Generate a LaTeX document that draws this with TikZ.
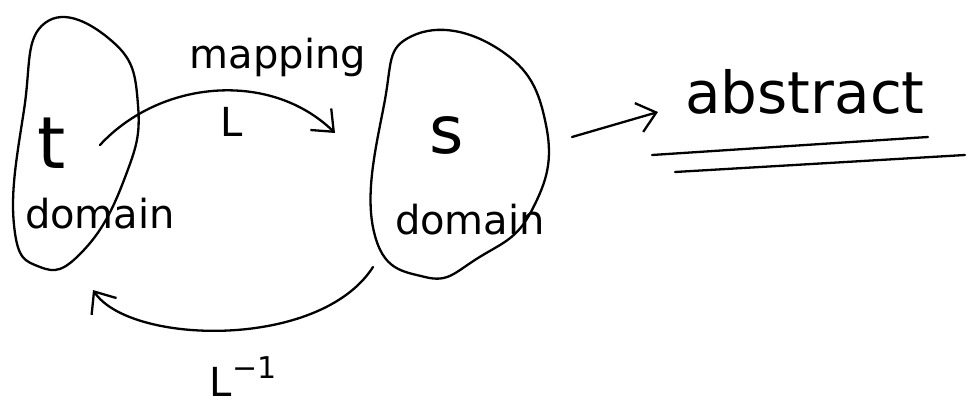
\documentclass[tikz,border=0pt]{standalone}
\usepackage{fontspec}
\setmainfont{DejaVu Sans}
\usetikzlibrary{arrows.meta}
\begin{document}
\begin{tikzpicture}[x=1pt,y=-1pt,
  pen/.style={line width=2.3pt,black,line cap=round,line join=round},
  arr/.style={pen,-{Straight Barb[length=18pt,width=30pt]}},
  txt/.style={inner sep=0pt,font=\fontsize{#1}{#1}\selectfont}]
\useasboundingbox (0,0) rectangle (971,415);
% domains
\draw[pen] plot[smooth cycle,tension=0.8] coordinates {(45,23) (113,42) (138,105) (124,180) (82,252) (40,267) (14,225) (24,110)};
\draw[pen] plot[smooth cycle,tension=0.8] coordinates {(412,36) (500,50) (546,125) (532,210) (478,258) (425,277) (374,232) (384,105)};
% texts
\node[txt=72] (t) at (52,143) {t};
\node[txt=40] (td) at (100,214) {domain};
\node[txt=66] (s) at (447,135) {s};
\node[txt=40] (sd) at (470,220) {domain};
\node[txt=40] (map) at (278,57) {mapping};
\node[txt=40] (L) at (232,122) {L};
\node[txt=40] (Li) at (243,377) {L\raisebox{0.45em}{\fontsize{30}{30}\selectfont −1}};
\node[txt=58] (abs) at (805,92) {abstract};
% connectors
\coordinate (m1) at (100,145);
\coordinate (m2) at (335,133);
\draw[arr] (m1) .. controls (160,80) and (270,70) .. (m2);
\coordinate (b1) at (373,267);
\coordinate (b2) at (93,290);
\draw[arr] (b1) .. controls (320,350) and (130,345) .. (b2);
\coordinate (a1) at (572,137);
\coordinate (a2) at (658,112);
\draw[arr] (a1) -- (a2);
\coordinate (u1) at (652,155);
\coordinate (u2) at (928,137);
\coordinate (u3) at (675,172);
\coordinate (u4) at (965,155);
\draw[pen] (u1) -- (u2);
\draw[pen] (u3) -- (u4);
\end{tikzpicture}
\end{document}
